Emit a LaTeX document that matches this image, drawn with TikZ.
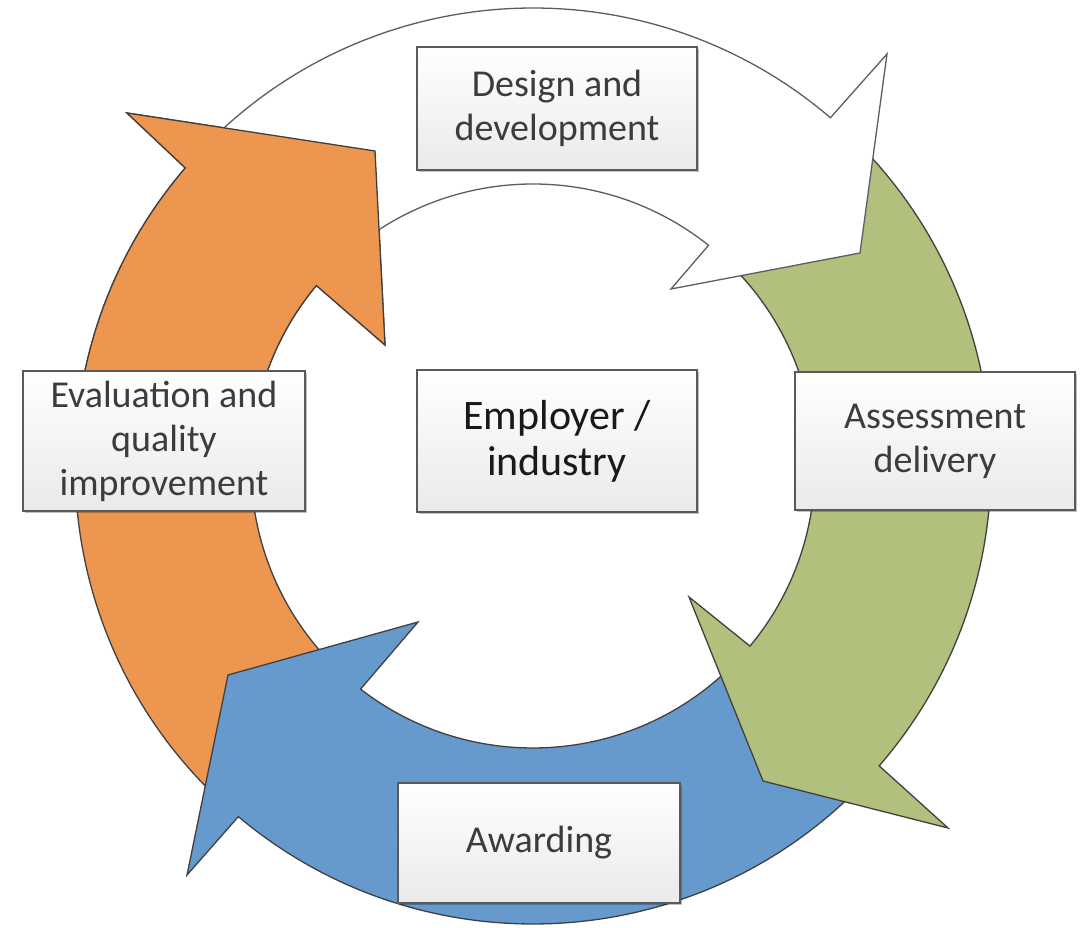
\documentclass[tikz,border=0pt]{standalone}
\usepackage{fontspec}
\setmainfont{Carlito}
\usetikzlibrary{shadows}
\definecolor{orangeC}{RGB}{236,150,80}
\definecolor{greenC}{RGB}{177,192,124}
\definecolor{blueC}{RGB}{102,153,204}
\definecolor{edgeC}{RGB}{64,64,64}
\definecolor{boxEdge}{RGB}{90,90,90}
\definecolor{boxBot}{RGB}{234,234,234}
\definecolor{txtC}{RGB}{60,60,60}
\tikzset{
  arr/.style={draw=edgeC, line width=1.3pt, line join=miter},
  box/.style={draw=boxEdge, line width=1.6pt, top color=white, bottom color=boxBot,
    align=center, inner sep=0pt, text=txtC, font=\fontsize{38pt}{44pt}\selectfont,
    drop shadow={shadow xshift=2pt, shadow yshift=-2pt, opacity=0.25, fill=black}},
  orangearrow/.style={arr, fill=orangeC}
}
\begin{document}
\begin{tikzpicture}[x=1pt, y=1pt]
\useasboundingbox[fill=white] (0,0) rectangle (1084,928);
\begin{scope}[shift={(533,462)}]
  % orange (left, upward)
  \path[orangearrow] (227:458pt) arc[start angle=227, end angle=139.4, radius=458pt]
     -- (-406,353) -- (-158,315) -- (-148,121)
     -- (140.2:282pt) arc[start angle=140.2, end angle=227, radius=282pt] -- cycle;
  % blue (bottom, leftward)
  \path[arr, fill=blueC] (316:458pt) arc[start angle=316, end angle=229.96, radius=458pt]
     -- (-346,-409) -- (-305,-209) -- (-115,-156)
     -- (232.3:282pt) arc[start angle=232.3, end angle=316, radius=282pt] -- cycle;
  % green (right, downward)
  \path[arr, fill=greenC] (47:458pt) arc[start angle=47, end angle=-40.9, radius=458pt]
     -- (415,-362) -- (230,-315) -- (156,-131)
     -- (-39.7:282pt) arc[start angle=-39.7, end angle=47, radius=282pt] -- cycle;
  % white (top, rightward)
  \path[arr, fill=white, draw=edgeC!85] (136:458pt) arc[start angle=136, end angle=49.5, radius=458pt]
     -- (354,412) -- (327,213) -- (138,177)
     -- (51.5:282pt) arc[start angle=51.5, end angle=136, radius=282pt] -- cycle;
  % orange head again on top of the white tail
  \begin{scope}
    \clip (-540,66) rectangle (0,470);
    \path[orangearrow] (227:458pt) arc[start angle=227, end angle=139.4, radius=458pt]
       -- (-406,353) -- (-158,315) -- (-148,121)
       -- (140.2:282pt) arc[start angle=140.2, end angle=227, radius=282pt] -- cycle;
  \end{scope}
\end{scope}

\node[box, minimum width=280pt, minimum height=123pt] (design) at (557,819.5) {Design and\\development};
\node[box, minimum width=282pt, minimum height=140pt] (eval) at (164,487) {Evaluation and\\quality\\improvement};
\node[box, minimum width=280pt, minimum height=142pt, text=black!90,
      font=\fontsize{42pt}{46pt}\selectfont] (employer) at (557,487) {Employer /\\industry};
\node[box, minimum width=280pt, minimum height=138pt] (assess) at (935,487) {Assessment\\delivery};
\node[box, minimum width=282pt, minimum height=120pt] (award) at (539,85) {Awarding};
\end{tikzpicture}
\end{document}
